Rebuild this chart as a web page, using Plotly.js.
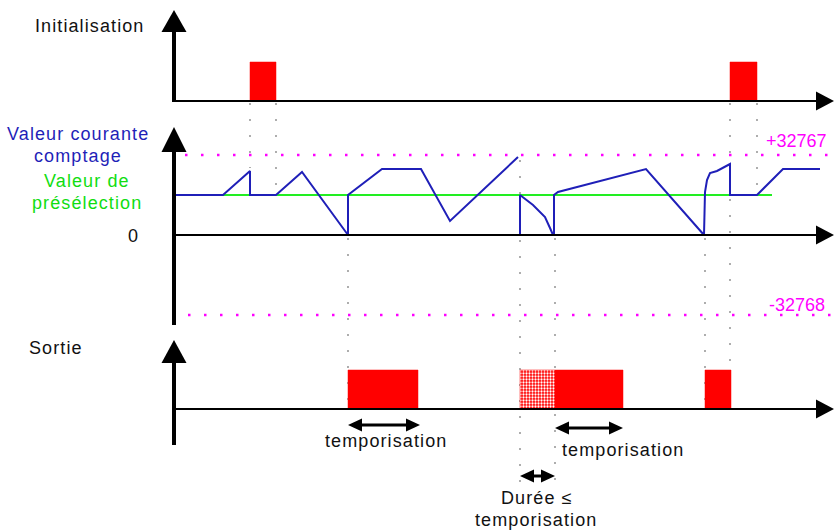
<!DOCTYPE html>
<html><head><meta charset="utf-8">
<script src="https://cdn.plot.ly/plotly-3.0.1.min.js"></script>
<style>
body{margin:0;background:#fff}
text.annotation-text{letter-spacing:1.1px}
text.annotation-text[data-unformatted^="+"],text.annotation-text[data-unformatted^="-"],text.annotation-text[data-unformatted="0"]{letter-spacing:0}
</style>
</head><body><div id="chart" style="width:839px;height:530px"></div>
<script>
// ---- data (time in arbitrary units, counter in counts) ----
const initPulses = [[76,102],[556,583]];
const outputPulses = [[174,244],[381,449],[531,557]];
const outputEarlyPulses = [[346,381]];
const counterT = [2,49,76,76,102,128,174,174,208,247,276,344,null,346,346,359,371,376,379,380,380,384,472,530,531,533,536,543,556,556,583,609,646];
const counterV = [16400,16400,26240,16400,16400,25830,0,16400,27060,27060,5740,31980,null,0,16400,12300,7380,2870,0,0,16400,17630,27060,0,17630,22550,25420,26240,29110,16400,16400,27060,27060];
const presetValue = 16400;
const presetSpan = [2, 598];
const maxCount = 32767, minCount = -32768;
const limitSpan = [11, 661];
const timerSpans = [[174,244],[381,449]];
const shortSpan = [346,381];
const eventTimes = [76,102,174,346,381,531,556,583];

// ---- helpers ----
const W = 839, H = 530;
const P = y => 1 - y / H;          // pixel y -> paper
const X = x => x / W;              // pixel x -> paper
function pulseXY(pulses){
  const xs=[], ys=[];
  pulses.forEach(([a,b])=>{ xs.push(a,a,b,b,a,null); ys.push(0,1,1,0,0,null); });
  return {x:xs,y:ys};
}
const RED = '#ff0000', BLUE = '#1f1fb8', GREEN = '#22ee22', MAG = '#ff00ff';

const ip = pulseXY(initPulses), op = pulseXY(outputPulses), ep = pulseXY(outputEarlyPulses);
const traces = [
  {x:ip.x, y:ip.y, yaxis:'y', type:'scatter', mode:'lines', fill:'toself', fillcolor:RED, line:{width:0.5,color:RED}, hoverinfo:'skip'},
  {x:op.x, y:op.y, yaxis:'y3', type:'scatter', mode:'lines', fill:'toself', fillcolor:RED, line:{width:0.5,color:RED}, hoverinfo:'skip'},
  {x:ep.x, y:ep.y, yaxis:'y3', type:'scatter', mode:'lines', fill:'toself', fillcolor:RED,
   fillpattern:{shape:'.', bgcolor:RED, fgcolor:'#ffffff', size:3, solidity:0.45}, line:{width:0.5,color:RED}, hoverinfo:'skip'},
  {x:[limitSpan[0],limitSpan[1]], y:[maxCount,maxCount], yaxis:'y2', type:'scatter', mode:'lines', line:{color:MAG,width:2.5,dash:'2.5px,13.5px'}, hoverinfo:'skip'},
  {x:[limitSpan[0]+3,limitSpan[1]], y:[minCount,minCount], yaxis:'y2', type:'scatter', mode:'lines', line:{color:MAG,width:2.5,dash:'2.5px,13.5px'}, hoverinfo:'skip'},
  {x:presetSpan, y:[presetValue,presetValue], yaxis:'y2', type:'scatter', mode:'lines', line:{color:GREEN,width:2}, hoverinfo:'skip'},
  {x:counterT, y:counterV, yaxis:'y2', type:'scatter', mode:'lines', connectgaps:false, line:{color:BLUE,width:2}, hoverinfo:'skip'}
];

// ---- decorations ----
const shapes = [];
const eventExtents = {76:[103,168],102:[103,193],174:[238,409],346:[160,492],381:[238,492],531:[238,409],556:[103,409],583:[103,193]};
eventTimes.forEach(t=>{
  const [a,b] = eventExtents[t];
  shapes.push({type:'line', xref:'x', yref:'paper', x0:t, x1:t, y0:P(a), y1:P(b), layer:'below',
    line:{color:'#9a9a9a', width:1.6, dash:'2px,14px'}});
});
[[10,32,102],[127,152,325],[340,363,445]].forEach(([tip,base,end])=>{
  shapes.push({type:'line', xref:'x', yref:'paper', x0:0, x1:0, y0:P(base-2), y1:P(end), line:{color:'#000',width:4}});
  shapes.push({type:'path', xref:'x', yref:'paper', path:`M -12.5,${P(base)} L 0,${P(tip)} L 12.5,${P(base)} Z`, fillcolor:'#000', line:{width:0}});
});
[101,235,409].forEach(y=>{
  shapes.push({type:'line', xref:'x', yref:'paper', x0:0, x1:646, y0:P(y), y1:P(y), line:{color:'#000',width:2}});
  shapes.push({type:'path', xref:'x', yref:'paper', path:`M 642,${P(y-9.5)} L 660,${P(y)} L 642,${P(y+9.5)} Z`, fillcolor:'#000', line:{width:0}});
});
function dblArrow(a,b,y){
  shapes.push({type:'line', xref:'x', yref:'paper', x0:a+6, x1:b-6, y0:P(y), y1:P(y), line:{color:'#000',width:3}});
  shapes.push({type:'path', xref:'x', yref:'paper', path:`M ${a},${P(y)} L ${a+14},${P(y-6.5)} L ${a+14},${P(y+6.5)} Z`, fillcolor:'#000', line:{width:0}});
  shapes.push({type:'path', xref:'x', yref:'paper', path:`M ${b},${P(y)} L ${b-14},${P(y-6.5)} L ${b-14},${P(y+6.5)} Z`, fillcolor:'#000', line:{width:0}});
}
dblArrow(timerSpans[0][0], timerSpans[0][1]+2, 425);
dblArrow(timerSpans[1][0], timerSpans[1][1], 428);
dblArrow(shortSpan[0], shortSpan[1], 476);

// ---- labels ----
const FONT = 'Liberation Sans, Arial, sans-serif';
function lab(text, x, y, color, size){
  return {text:text, xref:'paper', yref:'paper', x:X(x), y:P(y), xanchor:'center', yanchor:'middle',
    showarrow:false, font:{family:FONT, size:size||18, color:color||'#111'}};
}
const annotations = [
  lab('Initialisation', 89, 26),
  lab('Valeur courante', 78, 134, BLUE),
  lab('comptage', 78, 156, BLUE),
  lab('Valeur de', 87, 181, '#11dd11'),
  lab('présélection', 87, 203, '#11dd11'),
  lab('0', 133, 236),
  lab('+32767', 796, 141, MAG),
  lab('-32768', 797, 305, MAG),
  lab('Sortie', 56, 348),
  lab('temporisation', 386, 441),
  lab('temporisation', 623, 450),
  lab('Durée ≤', 537, 498),
  lab('temporisation', 536, 520)
];

const layout = {
  width:W, height:H, margin:{l:0,r:0,t:0,b:0}, paper_bgcolor:'#fff', plot_bgcolor:'#fff', showlegend:false,
  xaxis:{range:[-174, 665], visible:false, fixedrange:true},
  yaxis:{range:[(101-530)/39, 101/39], visible:false, fixedrange:true},
  yaxis2:{range:[(235-530)*410, 235*410], overlaying:'y', visible:false, fixedrange:true},
  yaxis3:{range:[(409-530)/39, 409/39], overlaying:'y', visible:false, fixedrange:true},
  shapes:shapes, annotations:annotations
};
Plotly.newPlot('chart', traces, layout, {staticPlot:true, displayModeBar:false});
</script></body></html>
